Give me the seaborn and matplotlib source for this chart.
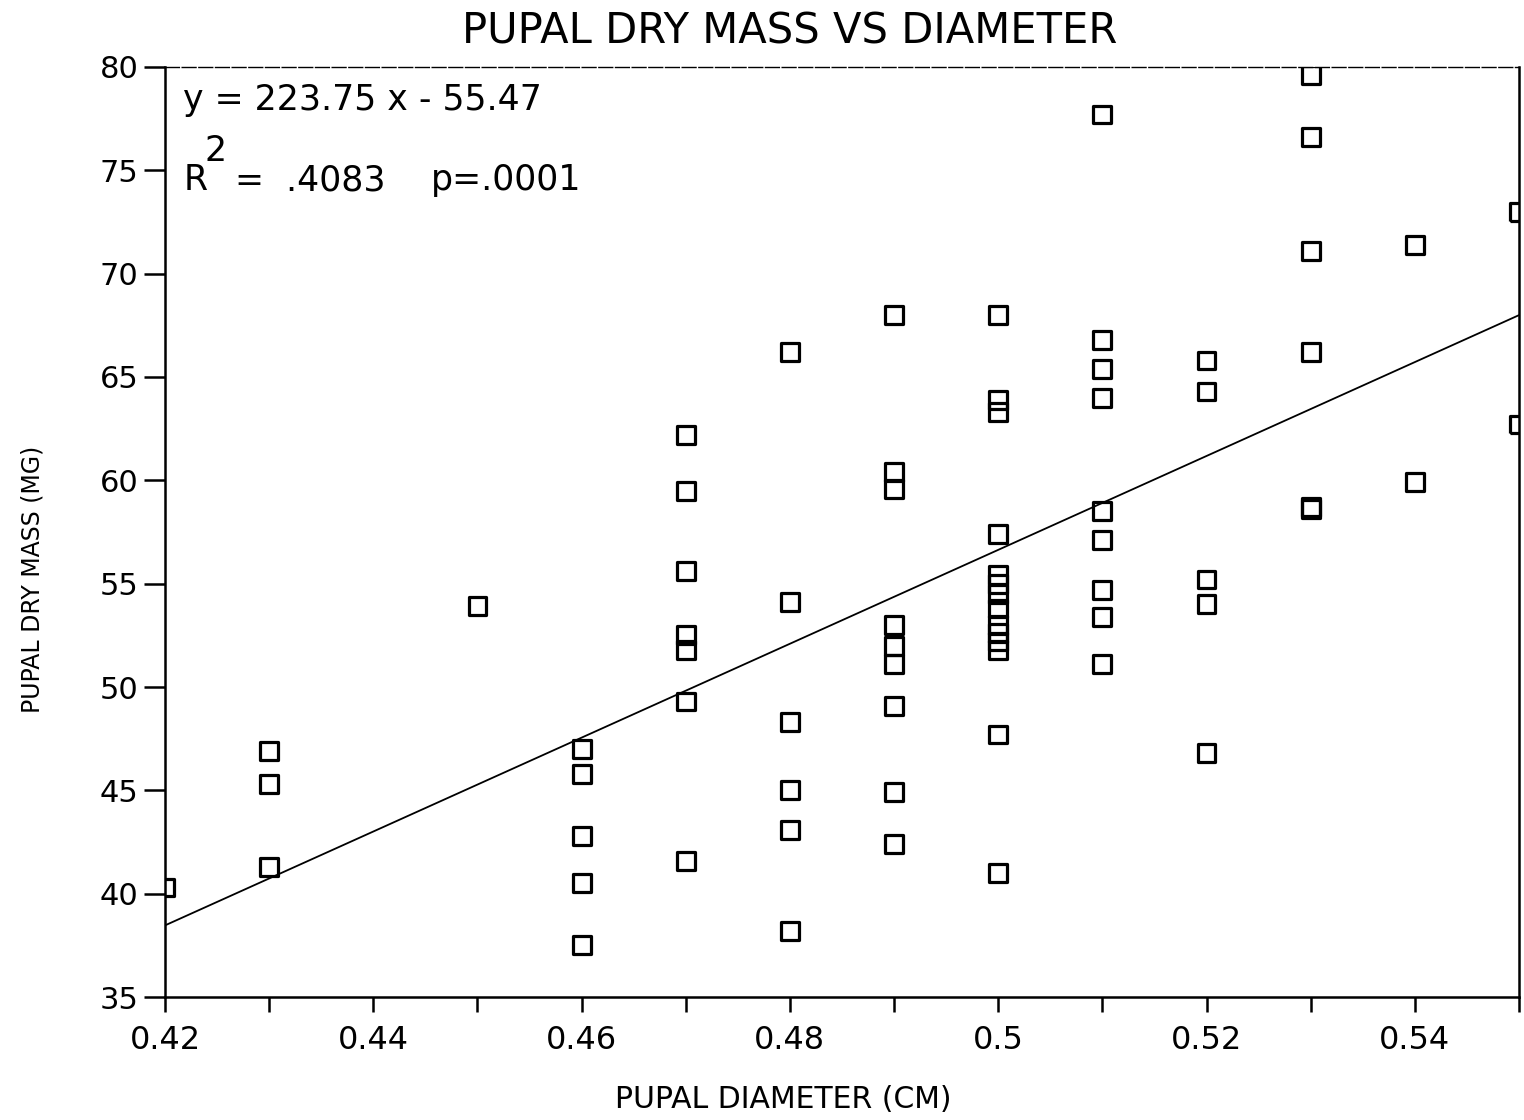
import numpy as np
import pandas as pd
import matplotlib
matplotlib.use("Agg")
import matplotlib.pyplot as plt
import seaborn as sns

diam_levels = [0.42, 0.43, 0.45, 0.46, 0.47, 0.48, 0.49, 0.50, 0.51, 0.52, 0.53, 0.54, 0.55]
mass_by_diam = [
    [40.3],
    [46.9, 45.3, 41.3],
    [53.9],
    [47.0, 45.8, 42.8, 40.5, 37.5],
    [62.2, 59.5, 55.6, 52.5, 51.8, 49.3, 41.6],
    [66.2, 54.1, 48.3, 45.0, 43.1, 38.2],
    [68.0, 60.4, 59.6, 53.0, 52.0, 51.1, 49.1, 44.9, 42.4],
    [68.0, 63.9, 63.3, 57.4, 55.4, 55.0, 54.5, 53.8, 53.0, 52.6, 52.2, 51.8, 47.7, 41.0],
    [77.7, 66.8, 65.4, 64.0, 58.5, 57.1, 54.7, 53.4, 51.1],
    [65.8, 64.3, 55.2, 54.0, 46.8],
    [79.6, 76.6, 71.1, 66.2, 58.7, 58.6],
    [71.4, 59.9],
    [73.0, 62.7],
]

x_ticks = [0.42, 0.44, 0.46, 0.48, 0.50, 0.52, 0.54]
x_tick_labels = ["0.42", "0.44", "0.46", "0.48", "0.5", "0.52", "0.54"]
x_minor = [0.43, 0.45, 0.47, 0.49, 0.51, 0.53, 0.55]
y_ticks = [35, 40, 45, 50, 55, 60, 65, 70, 75, 80]

diameter = [d for d, ms in zip(diam_levels, mass_by_diam) for _ in ms]
mass = [m for ms in mass_by_diam for m in ms]
df = pd.DataFrame({"diameter": diameter, "mass": mass})

sns.set_style("ticks")
plt.rcParams["font.family"] = ["DejaVu Sans"]
plt.rcParams["text.color"] = "black"
plt.rcParams["xtick.color"] = "black"
plt.rcParams["ytick.color"] = "black"
plt.rcParams["axes.edgecolor"] = "black"

fig = plt.figure(figsize=(15.24, 11.2), dpi=100)
ax = fig.add_axes([0.1083, 0.1098, 0.8884, 0.8304])

sns.scatterplot(data=df, x="diameter", y="mass", marker="s", s=165,
                facecolor="none", edgecolor="black", linewidth=2.3, ax=ax, zorder=3)
sns.regplot(data=df, x="diameter", y="mass", scatter=False, ci=None,
            color="black", line_kws={"linewidth": 1.3}, ax=ax)

ax.set_xlim(0.42, 0.55)
ax.set_ylim(35, 80)
ax.set_xticks(x_ticks)
ax.set_xticklabels(x_tick_labels)
ax.set_xticks(x_minor, minor=True)
ax.set_yticks(y_ticks)
ax.tick_params(axis="y", which="both", direction="out", length=15, width=1.8,
               labelsize=22, pad=4)
ax.tick_params(axis="x", which="both", direction="out", length=11, width=1.8,
               labelsize=23, pad=9)
ax.set_xlabel("")
ax.set_ylabel("")

for side in ["left", "bottom", "right"]:
    ax.spines[side].set_linewidth(1.8)
ax.spines["top"].set_linewidth(1.0)
ax.spines["top"].set_linestyle((0, (10, 2)))
ax.spines["right"].set_visible(True)
ax.spines["top"].set_visible(True)

fs = 25
ax.text(0.0135, 0.965, "y = 223.75 x - 55.47", transform=ax.transAxes,
        fontsize=fs, va="center", ha="left")
ax.text(0.0135, 0.878, "R", transform=ax.transAxes, fontsize=fs, va="center", ha="left")
ax.text(0.0295, 0.91, "2", transform=ax.transAxes, fontsize=fs, va="center", ha="left")
ax.text(0.0517, 0.878, "=  .4083", transform=ax.transAxes,
        fontsize=fs, va="center", ha="left")
ax.text(0.196, 0.878, "p=.0001", transform=ax.transAxes,
        fontsize=fs, va="center", ha="left")

fig.text(0.518, 0.972, "PUPAL DRY MASS VS DIAMETER", fontsize=30, ha="center", va="center")
fig.text(0.514, 0.018, "PUPAL DIAMETER (CM)", fontsize=21.5, ha="center", va="center")
fig.text(0.021, 0.483, "PUPAL DRY MASS (MG)", fontsize=17, ha="center", va="center",
         rotation=90)

fig.savefig("out.png", dpi=100)
